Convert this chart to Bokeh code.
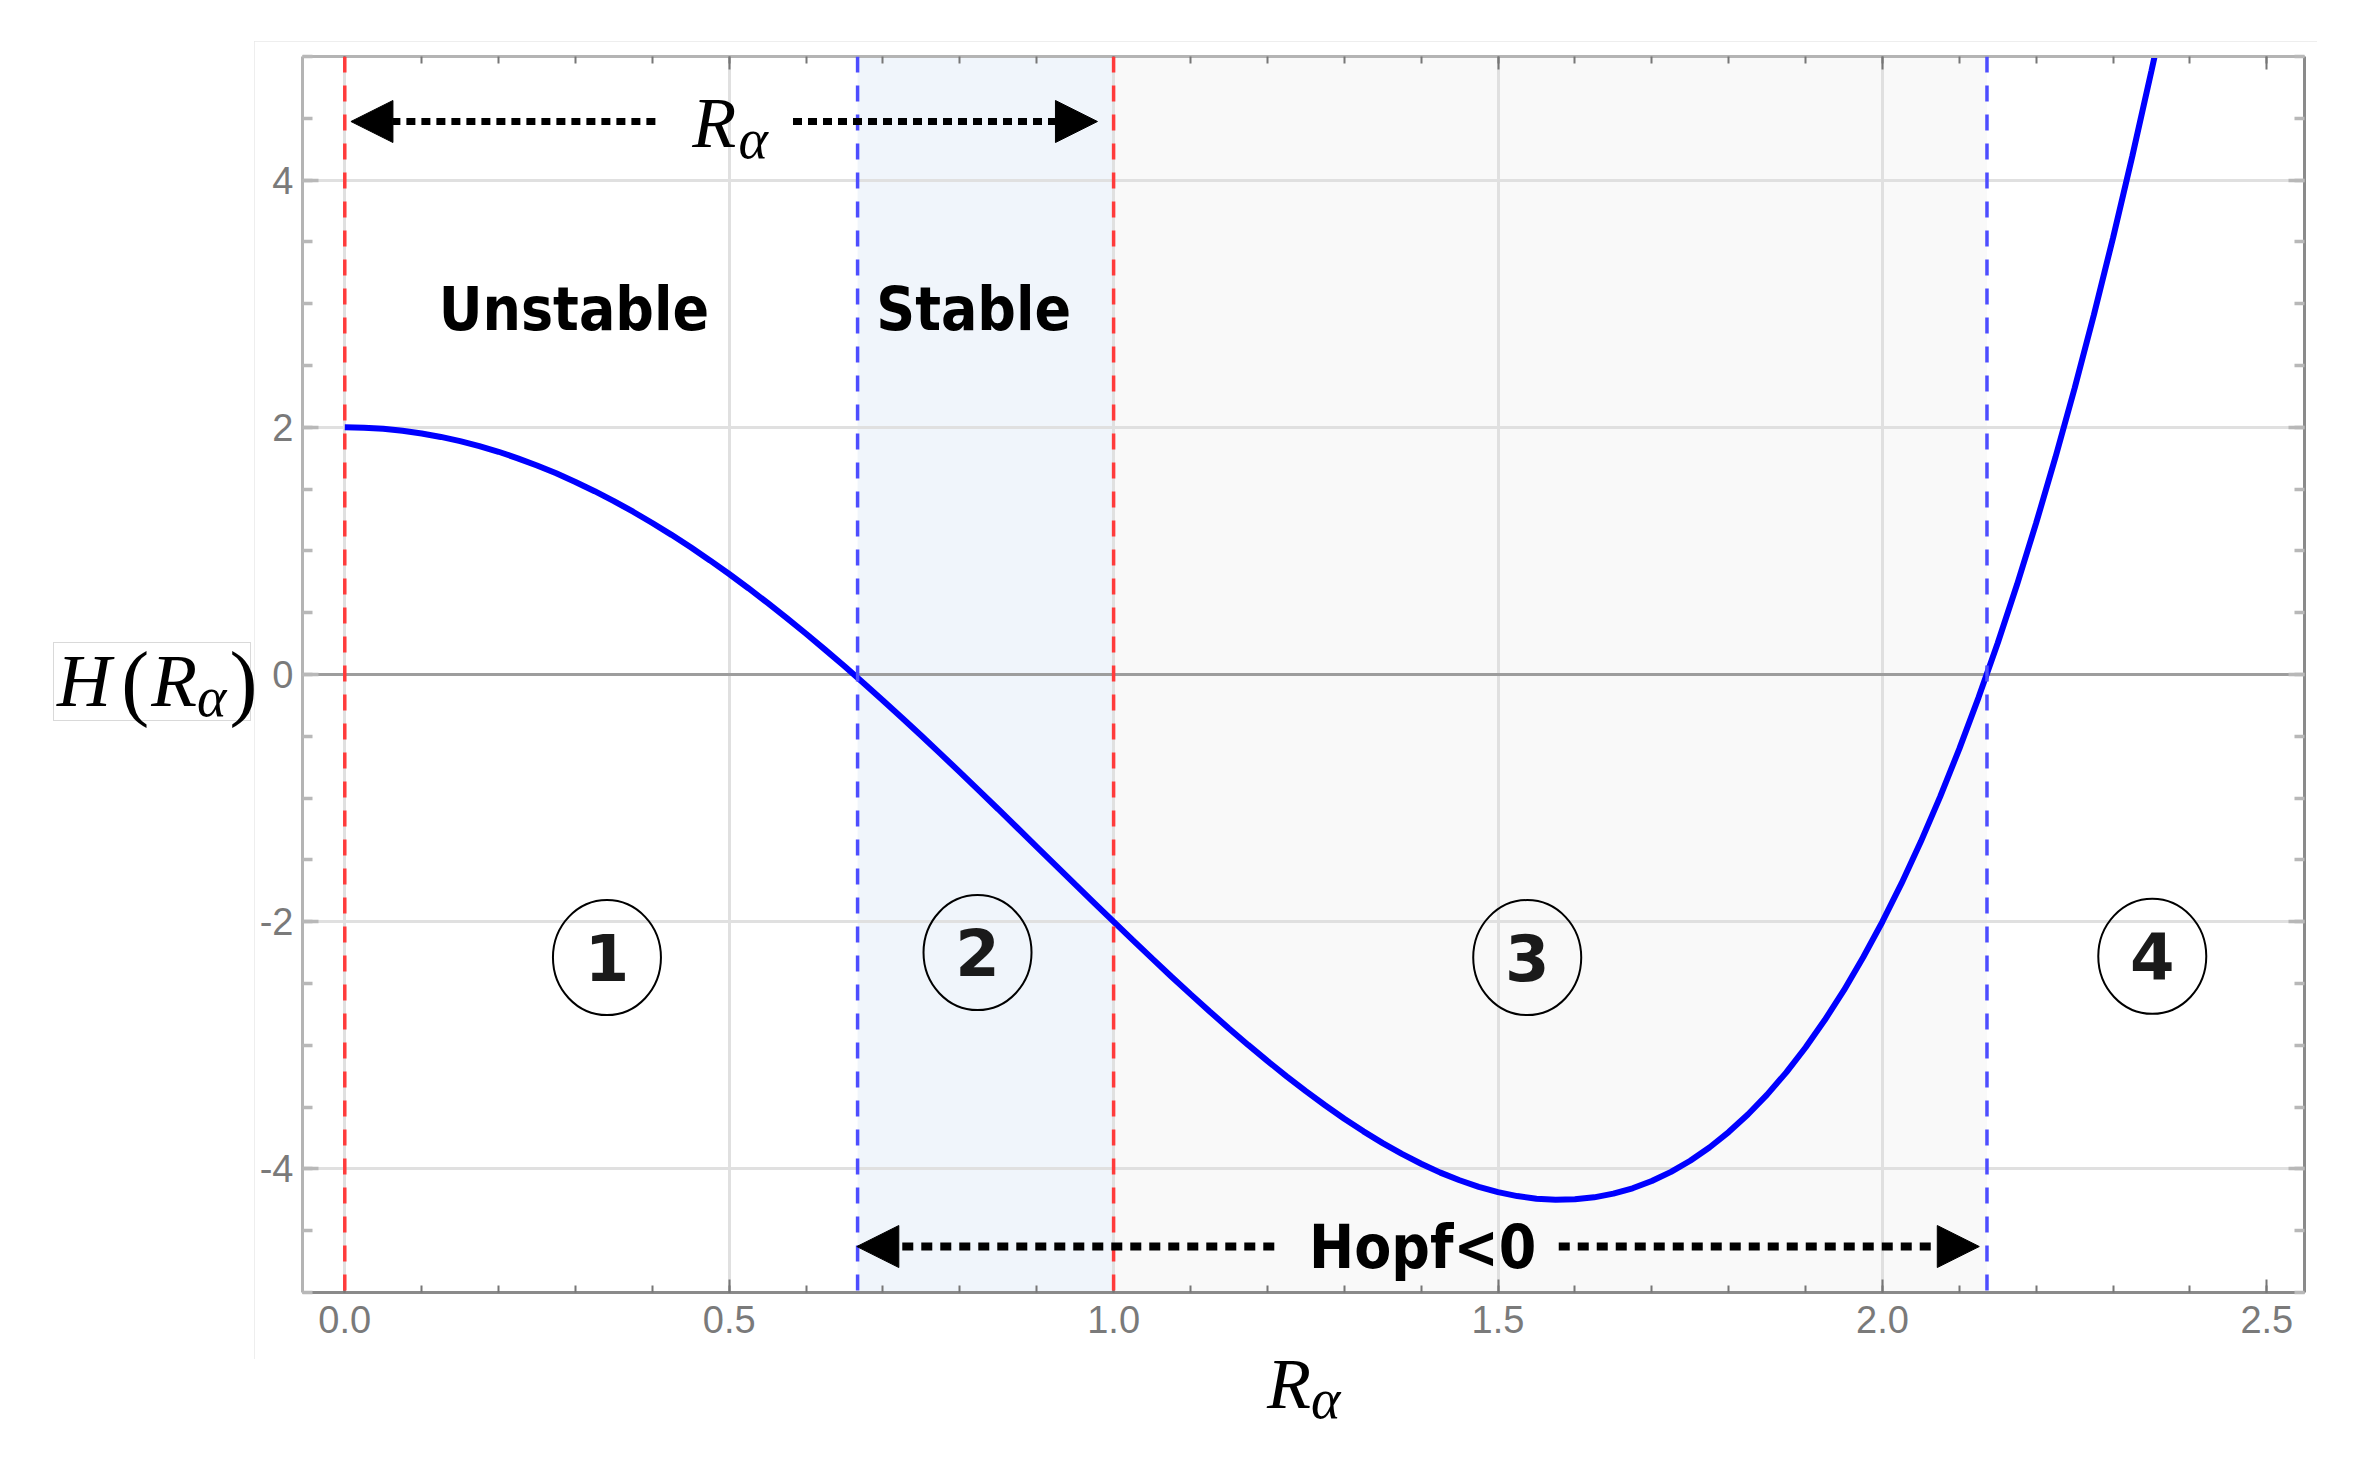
from bokeh.plotting import figure
from bokeh.models import (Span, BoxAnnotation, Label, Arrow, NormalHead, LinearAxis, Div, Spacer,
                          SingleIntervalTicker, FixedTicker, Range1d, NumeralTickFormatter)
from bokeh.layouts import column, row
from bokeh.core.properties import value
from bokeh.embed import file_html
from bokeh.resources import INLINE

# ---------------- data ----------------
r_values = [0.000, 0.025, 0.050, 0.075, 0.100, 0.125, 0.150, 0.175, 0.200, 0.225,
            0.250, 0.275, 0.300, 0.325, 0.350, 0.375, 0.400, 0.425, 0.450, 0.475,
            0.500, 0.525, 0.550, 0.575, 0.600, 0.625, 0.650, 0.675, 0.700, 0.725,
            0.750, 0.775, 0.800, 0.825, 0.850, 0.875, 0.900, 0.925, 0.950, 0.975,
            1.000, 1.025, 1.050, 1.075, 1.100, 1.125, 1.150, 1.175, 1.200, 1.225,
            1.250, 1.275, 1.300, 1.325, 1.350, 1.375, 1.400, 1.425, 1.450, 1.475,
            1.500, 1.525, 1.550, 1.575, 1.600, 1.625, 1.650, 1.675, 1.700, 1.725,
            1.750, 1.775, 1.800, 1.825, 1.850, 1.875, 1.900, 1.925, 1.950, 1.975,
            2.000, 2.025, 2.050, 2.075, 2.100, 2.125, 2.150, 2.175, 2.200, 2.225,
            2.250, 2.275, 2.300, 2.325, 2.350, 2.354]
h_values = [2.000, 1.997, 1.988, 1.972, 1.950, 1.922, 1.888, 1.848, 1.802, 1.749,
            1.691, 1.628, 1.558, 1.483, 1.403, 1.317, 1.226, 1.130, 1.029, 0.923,
            0.813, 0.698, 0.579, 0.456, 0.330, 0.199, 0.066, -0.071, -0.210, -0.352,
            -0.496, -0.642, -0.790, -0.940, -1.090, -1.242, -1.394, -1.546, -1.698, -1.849,
            -2.000, -2.149, -2.297, -2.443, -2.586, -2.726, -2.864, -2.997, -3.126, -3.251,
            -3.371, -3.485, -3.594, -3.696, -3.791, -3.879, -3.958, -4.030, -4.092, -4.145,
            -4.188, -4.220, -4.241, -4.250, -4.246, -4.230, -4.200, -4.157, -4.098, -4.024,
            -3.934, -3.827, -3.702, -3.560, -3.399, -3.219, -3.018, -2.796, -2.554, -2.288,
            -2.000, -1.688, -1.352, -0.990, -0.602, -0.187, 0.255, 0.726, 1.226, 1.756,
            2.316, 2.909, 3.534, 4.193, 4.886, 5.000]

red_lines = [0.0, 1.0]          # R_alpha interval bounds
blue_lines = [0.667, 2.136]     # zeros of H (Hopf<0 interval)
stable_band = [0.667, 1.0]
hopf_band = [1.0, 2.136]

region_x = [0.341, 0.823, 1.538, 2.351]
region_y = [-2.29, -2.25, -2.29, -2.28]
region_labels = ["1", "2", "3", "4"]

x_grid_ticks = [0.0, 0.5, 1.0, 1.5, 2.0]
y_grid_ticks = [-4, -2, 2, 4]

# ---------------- figure ----------------
p = figure(width=2063, height=1318, x_range=Range1d(-0.055, 2.549), y_range=Range1d(-5, 5),
           output_backend="svg", toolbar_location=None,
           min_border_left=48, min_border_right=13, min_border_top=15, min_border_bottom=67)
p.outline_line_color = None
p.background_fill_color = "white"
p.border_fill_color = "white"
p.styles = {"outline": "2px solid #e8e8e8", "outline-offset": "-2px"}

TICK_FONT = "Liberation Sans"

def style_common(ax, show_labels, line_color, tick_color, tick_w, major_in, minor_in, standoff):
    ax.axis_line_color = line_color
    ax.axis_line_width = 3
    ax.major_tick_in = major_in
    ax.major_tick_out = 0
    ax.minor_tick_in = minor_in
    ax.minor_tick_out = 0
    ax.major_tick_line_color = tick_color
    ax.minor_tick_line_color = tick_color
    ax.major_tick_line_width = tick_w
    ax.minor_tick_line_width = tick_w
    ax.major_label_text_font = TICK_FONT
    if show_labels:
        ax.major_label_text_color = "#7a7a7a"
        ax.major_label_text_font_size = "38px"
        ax.major_label_standoff = standoff
    else:
        ax.major_label_text_color = None
        ax.major_label_text_font_size = "1px"
        ax.major_label_standoff = 0

def style_x(ax, show_labels, line_color):
    ax.ticker = SingleIntervalTicker(interval=0.5, num_minor_ticks=5)
    ax.formatter = NumeralTickFormatter(format="0.0")
    style_common(ax, show_labels, line_color, "#777777", 2, 13, 7, 13)

def style_y(ax, show_labels, line_color):
    ax.ticker = SingleIntervalTicker(interval=2, num_minor_ticks=4)
    ax.formatter = NumeralTickFormatter(format="0")
    style_common(ax, show_labels, line_color, "#b8b8b8", 3.5, 16, 10, 9)

style_x(p.xaxis[0], True, "#8a8a8a")
style_y(p.yaxis[0], True, "#b4b4b4")
top_ax = LinearAxis()
style_x(top_ax, False, "#b4b4b4")
p.add_layout(top_ax, "above")
right_ax = LinearAxis()
style_y(right_ax, False, "#8a8a8a")
p.add_layout(right_ax, "right")

p.xgrid.ticker = FixedTicker(ticks=x_grid_ticks)
p.ygrid.ticker = FixedTicker(ticks=y_grid_ticks)
for g in (p.xgrid[0], p.ygrid[0]):
    g.grid_line_color = "#e0e0e0"
    g.grid_line_width = 3

# shaded bands (below the grid)
p.add_layout(BoxAnnotation(left=stable_band[0], right=stable_band[1], fill_color="#f0f5fb",
                           fill_alpha=1, line_color=None, level="image"))
p.add_layout(BoxAnnotation(left=hopf_band[0], right=hopf_band[1], fill_color="#f9f9f9",
                           fill_alpha=1, line_color=None, level="image"))

# zero line
p.add_layout(Span(location=0, dimension="width", line_color="#9d9d9d", line_width=3, level="underlay"))

# curve
p.line(r_values, h_values, line_color="#0000ff", line_width=6)

# dashed threshold lines
for xv in red_lines:
    p.add_layout(Span(location=xv, dimension="height", line_color="#ff3b3b", line_width=3.5,
                      line_dash="16 13"))
for xv in blue_lines:
    p.add_layout(Span(location=xv, dimension="height", line_color="#4d4dff", line_width=3.5,
                      line_dash="16 13"))

# circled region numbers
p.ellipse(x=region_x, y=region_y, width=108, height=115, width_units="screen",
          height_units="screen", fill_color=None, line_color="black", line_width=2)
p.text(x=region_x, y=region_y, text=region_labels, text_font=value("DejaVu Sans"),
       text_font_style="bold", text_font_size=value("64px"), text_align="center",
       text_baseline="middle", text_color="#1a1a1a")

# region titles
BOLD_FONT = "DejaVu Sans Condensed"
p.add_layout(Label(x=0.298, y=2.96, text="Unstable", text_font=BOLD_FONT, text_font_style="bold",
                   text_font_size="60px", text_align="center", text_baseline="middle",
                   text_color="black"))
p.add_layout(Label(x=0.818, y=2.96, text="Stable", text_font=BOLD_FONT, text_font_style="bold",
                   text_font_size="60px", text_align="center", text_baseline="middle",
                   text_color="black"))

# top arrow (R_alpha interval)
top_y = 4.474
for xs, xe in [(0.404, 0.008), (0.583, 0.979)]:
    p.add_layout(Arrow(x_start=xs, y_start=top_y, x_end=xe, y_end=top_y,
                       end=NormalHead(size=42, fill_color="black", line_color="black", line_width=1),
                       line_color="black", line_width=7, line_dash="9 6"))
SERIF = "Liberation Serif"
p.add_layout(Label(x=0.452, y=4.460, text="R", text_font=SERIF, text_font_style="italic",
                   text_font_size="72px", text_align="left", text_baseline="middle",
                   text_color="black"))
p.add_layout(Label(x=0.512, y=4.336, text="α", text_font=SERIF, text_font_style="italic",
                   text_font_size="56px", text_align="left", text_baseline="middle",
                   text_color="black"))

# bottom arrow (Hopf < 0)
bot_y = -4.628
for xs, xe in [(1.209, 0.666), (1.579, 2.126)]:
    p.add_layout(Arrow(x_start=xs, y_start=bot_y, x_end=xe, y_end=bot_y,
                       end=NormalHead(size=42, fill_color="black", line_color="black", line_width=1),
                       line_color="black", line_width=8, line_dash="11 8"))
p.add_layout(Label(x=1.402, y=bot_y, text="Hopf<0", text_font=BOLD_FONT, text_font_style="bold",
                   text_font_size="60px", text_align="center", text_baseline="middle",
                   text_color="black"))

# ---------------- axis titles as HTML text (with subscript) ----------------
serif_css = "font-family:'Liberation Serif'; font-style:italic; color:black; white-space:nowrap;"
paren_css = "font-style:normal; font-size:84px; position:relative; top:4px;"
y_label_html = (
    '<div style="position:relative; width:244px; height:1318px;">'
    '<div style="position:absolute; left:48px; top:596px; width:198px; height:79px; '
    'border:1px solid #d9d9d9; box-sizing:border-box;"></div>'
    '<div style="position:absolute; left:52px; top:594px; font-size:75px; line-height:75px; '
    + serif_css + '">H<span style="margin-left:10px; ' + paren_css + '">(</span>'
    '<span style="margin-left:2px">R</span>'
    '<span style="font-size:56px; position:relative; top:10px;">α</span>'
    '<span style="margin-left:3px; ' + paren_css + '">)</span></div></div>'
)
x_label_html = (
    '<div style="position:relative; width:2307px; height:90px;">'
    '<div style="position:absolute; left:1262px; top:-26px; font-size:72px; line-height:72px; '
    + serif_css + '">R<span style="font-size:56px; position:relative; top:10px;">α</span></div></div>'
)
ydiv = Div(text=y_label_html, width=244, height=1318)
xdiv = Div(text=x_label_html, width=2307, height=90)

layout = column(Spacer(width=2307, height=41), row(ydiv, p), xdiv)

open("out.html", "w").write(file_html(layout, INLINE))
